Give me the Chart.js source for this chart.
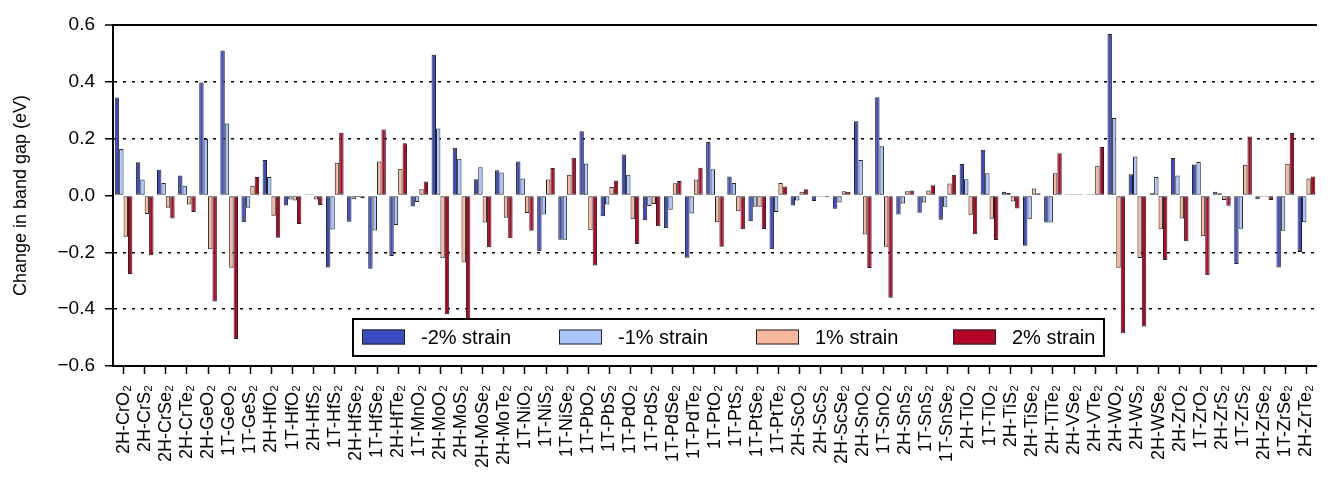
<!DOCTYPE html>
<html>
<head>
<meta charset="utf-8">
<title>Change in band gap under strain</title>
<script src="https://cdn.jsdelivr.net/npm/chart.js@4.4.1/dist/chart.umd.min.js"></script>
<style>
    html, body { margin: 0; padding: 0; background: #fff; overflow: hidden; }
    canvas { display: block; }
</style>
</head>
<body>
<canvas id="canvasGap" width="1339" height="480"></canvas>
<script>
const materials = [
    '2H-CrO₂', '2H-CrS₂', '2H-CrSe₂', '2H-CrTe₂', '2H-GeO₂', '1T-GeO₂', '1T-GeS₂', '2H-HfO₂',
    '1T-HfO₂', '2H-HfS₂', '1T-HfS₂', '2H-HfSe₂', '1T-HfSe₂', '2H-HfTe₂', '1T-MnO₂', '2H-MoO₂',
    '2H-MoS₂', '2H-MoSe₂', '2H-MoTe₂', '1T-NiO₂', '1T-NiS₂', '1T-NiSe₂', '1T-PbO₂', '1T-PbS₂',
    '1T-PdO₂', '1T-PdS₂', '1T-PdSe₂', '1T-PdTe₂', '1T-PtO₂', '1T-PtS₂', '1T-PtSe₂', '1T-PtTe₂',
    '2H-ScO₂', '2H-ScS₂', '2H-ScSe₂', '2H-SnO₂', '1T-SnO₂', '2H-SnS₂', '1T-SnS₂', '1T-SnSe₂',
    '2H-TiO₂', '1T-TiO₂', '2H-TiS₂', '2H-TiSe₂', '2H-TiTe₂', '2H-VSe₂', '2H-VTe₂', '2H-WO₂',
    '2H-WS₂', '2H-WSe₂', '2H-ZrO₂', '1T-ZrO₂', '2H-ZrS₂', '1T-ZrS₂', '2H-ZrSe₂', '1T-ZrSe₂',
    '2H-ZrTe₂'
];

const strainMinus2 = [
    0.345, 0.117, 0.091, 0.070, 0.398, 0.510, -0.094, 0.125,
    -0.035, 0.004, -0.253, -0.092, -0.258, -0.213, -0.039, 0.495,
    0.168, 0.057, 0.089, 0.120, -0.196, -0.156, 0.226, -0.073,
    0.144, -0.087, -0.115, -0.219, 0.188, 0.067, -0.091, -0.189,
    -0.035, -0.019, -0.047, 0.261, 0.346, -0.067, -0.061, -0.085,
    0.111, 0.161, 0.013, -0.177, -0.095, 0.004, 0.004, 0.568,
    0.075, 0.008, 0.132, 0.109, 0.013, -0.241, -0.013, -0.253,
    -0.199
];

const strainMinus1 = [
    0.164, 0.056, 0.044, 0.034, 0.199, 0.253, -0.043, 0.065,
    -0.014, 0.004, -0.120, -0.013, -0.123, -0.104, -0.023, 0.236,
    0.129, 0.099, 0.081, 0.060, -0.067, -0.156, 0.113, -0.032,
    0.073, -0.037, -0.050, -0.063, 0.092, 0.044, -0.040, -0.058,
    -0.018, -0.004, -0.025, 0.125, 0.173, -0.028, -0.025, -0.040,
    0.057, 0.078, 0.009, -0.084, -0.095, 0.004, 0.004, 0.273,
    0.137, 0.065, 0.070, 0.118, 0.008, -0.117, -0.004, -0.124,
    -0.094
];

const strainPlus1 = [
    -0.145, -0.065, -0.043, -0.032, -0.189, -0.254, 0.034, -0.071,
    -0.018, -0.014, 0.115, -0.006, 0.120, 0.094, 0.022, -0.221,
    -0.236, -0.095, -0.078, -0.062, 0.056, 0.073, -0.122, 0.030,
    -0.084, -0.030, 0.043, 0.056, -0.094, -0.055, -0.040, 0.044,
    0.013, -0.004, 0.015, -0.137, -0.180, 0.015, 0.018, 0.042,
    -0.068, -0.082, -0.021, 0.025, 0.078, 0.004, 0.105, -0.254,
    -0.220, -0.119, -0.081, -0.143, -0.016, 0.108, -0.004, 0.112,
    0.060
];

const strainPlus2 = [
    -0.276, -0.210, -0.081, -0.058, -0.373, -0.505, 0.065, -0.149,
    -0.100, -0.033, 0.221, -0.010, 0.232, 0.184, 0.049, -0.418,
    -0.450, -0.182, -0.150, -0.124, 0.097, 0.133, -0.246, 0.053,
    -0.171, -0.108, 0.051, 0.098, -0.180, -0.119, -0.118, 0.032,
    0.022, -0.006, 0.013, -0.255, -0.360, 0.018, 0.036, 0.073,
    -0.136, -0.157, -0.046, 0.008, 0.149, 0.004, 0.171, -0.485,
    -0.461, -0.227, -0.161, -0.281, -0.036, 0.208, -0.016, 0.220,
    0.067
];

const seriesNames = ['-2% strain', '-1% strain', '1% strain', '2% strain'];
const seriesColors = ['#3b4cc0', '#aac7fd', '#f7b89c', '#b40426'];
const yTicks = [-0.6, -0.4, -0.2, 0.0, 0.2, 0.4, 0.6];

Chart.defaults.font.family = "'Liberation Sans', Arial, Helvetica, sans-serif";
Chart.defaults.color = '#000';

function near(a, b) {
    return Math.abs(a - b) < 1e-6;
}

function formatTick(value) {
    const text = Math.abs(value).toFixed(1);
    return value < -1e-9 ? '\u2212' + text : text;
}

// legend box drawn inside the plot, over the bars, like the original figure
const boxLegend = {
    id: 'boxLegend',
    afterDatasetsDraw(chart) {
        const {ctx, chartArea} = chart;
        const left = chartArea.left + 240;
        const top = chartArea.bottom - 47;
        const width = 751;
        const height = 37;
        ctx.save();
        ctx.fillStyle = '#fff';
        ctx.fillRect(left, top, width, height);
        ctx.lineWidth = 2;
        ctx.strokeStyle = '#000';
        ctx.strokeRect(left, top, width, height);
        ctx.font = "20px 'Liberation Sans', Arial, sans-serif";
        ctx.textBaseline = 'middle';
        ctx.textAlign = 'left';
        chart.data.datasets.forEach((dataset, i) => {
            const x = left + 9 + i * 197;
            const y = top + height / 2;
            ctx.fillStyle = dataset.backgroundColor;
            ctx.fillRect(x, y - 8, 43, 15);
            ctx.lineWidth = 1;
            ctx.strokeStyle = '#222';
            ctx.strokeRect(x + 0.5, y - 7.5, 42, 14);
            ctx.fillStyle = '#000';
            ctx.fillText(dataset.label, x + 59, y + 1);
        });
        ctx.restore();
    }
};

const seriesValues = [strainMinus2, strainMinus1, strainPlus1, strainPlus2];

const gapCanvas = document.getElementById('canvasGap');
const gapChart = new Chart(gapCanvas, {
    type: 'bar',
    data: {
        labels: materials,
        datasets: seriesValues.map((values, i) => ({
            label: seriesNames[i],
            data: values,
            backgroundColor: seriesColors[i],
            borderColor: '#222',
            borderWidth: 1,
            borderSkipped: false,
            barPercentage: 1.0,
            categoryPercentage: 0.835
        }))
    },
    options: {
        responsive: false,
        animation: false,
        layout: {
            padding: {left: 0, right: -4, top: 25, bottom: 0}
        },
        plugins: {
            legend: {display: false},
            tooltip: {enabled: false}
        },
        scales: {
            x: {
                afterFit: scale => { scale.height = 114; },
                grid: {
                    drawOnChartArea: false,
                    offset: false,
                    tickLength: 8,
                    tickColor: '#000',
                    tickWidth: 1.5
                },
                border: {color: '#000', width: 2},
                ticks: {
                    autoSkip: false,
                    maxRotation: 90,
                    minRotation: 90,
                    padding: 11,
                    color: '#000',
                    font: {size: 18}
                }
            },
            y: {
                min: yTicks[0],
                max: yTicks[yTicks.length - 1],
                afterFit: scale => { scale.width = 113; },
                afterBuildTicks: scale => { scale.ticks = yTicks.map(v => ({value: v})); },
                grid: {
                    color: c => near(c.tick.value, 0) ? 'rgba(0,0,0,0)' : '#000',
                    lineWidth: c => near(c.tick.value, 0.6) ? 2 : 1.5,
                    tickLength: 8,
                    tickColor: '#000',
                    tickWidth: 1.5
                },
                border: {
                    color: '#000',
                    width: 2,
                    dash: c => (c.tick && near(c.tick.value, 0.6)) ? [] : [3, 6]
                },
                ticks: {
                    padding: 10,
                    color: '#000',
                    font: {size: 19},
                    callback: value => formatTick(value)
                },
                title: {
                    display: true,
                    text: 'Change in band gap (eV)',
                    color: '#000',
                    font: {size: 18},
                    padding: {top: 10, bottom: 0}
                }
            }
        }
    },
    plugins: [boxLegend]
});
</script>
</body>
</html>
